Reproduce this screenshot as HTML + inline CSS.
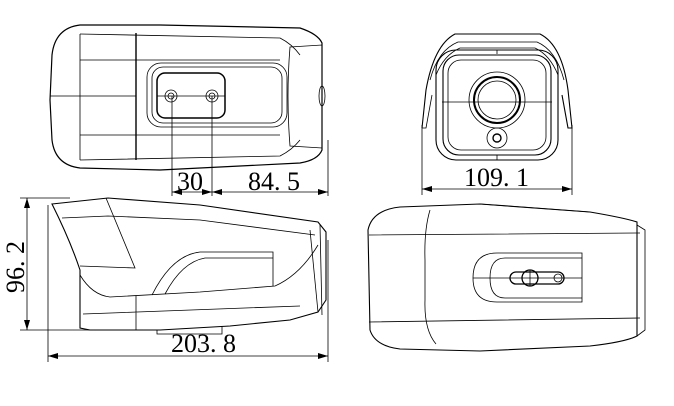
<!DOCTYPE html>
<html><head><meta charset="utf-8"><style>
html,body{margin:0;padding:0;background:#fff;}
svg{display:block;}
text{font-family:"Liberation Serif",serif;fill:#000;}
</style></head><body>
<svg width="674" height="406" viewBox="0 0 674 406" xmlns="http://www.w3.org/2000/svg">
<defs>
<marker id="a" viewBox="0 0 10 6" refX="10" refY="3" markerWidth="10" markerHeight="6" orient="auto-start-reverse" markerUnits="userSpaceOnUse">
<path d="M0,0 L10,3 L0,6 Z" fill="#000"/></marker>
</defs>
<g fill="none" stroke="#000" stroke-width="0.8">
<!-- TOP VIEW -->
<path d="M80,25 L160,25 L300,28 Q318,34 322,43 L322,150 Q318,160 300,163 L160,170 L80,168 Q55,165 52,140 L50,100 L52,55 Q55,28 80,25 Z" stroke-width="1.2"/>
<path d="M80,34 L80,160"/>
<line x1="136" y1="33" x2="136" y2="160" stroke-width="1.4"/>
<path d="M80,34 L280,38 Q292,44 300,55"/>
<path d="M80,160 L280,156 Q292,150 300,140"/>
<path d="M80,60 L280,60 M80,135 L280,135 M50,96 L136,96"/>
<path d="M290,47 L322,45 L322,148 L290,146 Q286,96 290,47 Z"/>
<ellipse cx="322" cy="96" rx="3" ry="10"/>
<rect x="147" y="63" width="140" height="64" rx="14"/>
<rect x="152" y="67" width="130" height="56" rx="11"/>
<rect x="157" y="73" width="68" height="45" rx="8" stroke-width="1.5"/>
<line x1="157" y1="96" x2="225" y2="96"/>
<circle cx="171" cy="96" r="6"/><circle cx="171" cy="96" r="3"/>
<circle cx="212" cy="96" r="6"/><circle cx="212" cy="96" r="3"/>
<line x1="172" y1="96" x2="172" y2="196"/>
<line x1="212" y1="96" x2="212" y2="196"/>
<line x1="328" y1="140" x2="328" y2="196"/>
<line x1="172" y1="192" x2="212" y2="192" marker-start="url(#a)" marker-end="url(#a)"/>
<line x1="212" y1="192" x2="328" y2="192" marker-start="url(#a)" marker-end="url(#a)"/>

<!-- SIDE VIEW -->
<line x1="20" y1="198" x2="70" y2="198"/>
<line x1="20" y1="330" x2="140" y2="330"/>
<line x1="27" y1="198" x2="27" y2="330" marker-start="url(#a)" marker-end="url(#a)"/>
<line x1="48" y1="205" x2="48" y2="362"/>
<line x1="328" y1="240" x2="328" y2="362"/>
<line x1="48" y1="356" x2="328" y2="356" marker-start="url(#a)" marker-end="url(#a)"/>
<path d="M52,204 L108,198 L200,205 L318,222 L326,232 L326,300 L318,312 L290,320 L230,326 L160,330 L90,330 L80,328 L80,270 Q70,240 52,204 Z" stroke-width="1.1"/>
<path d="M62,218 L108,216 L200,220 L315,235"/>
<path d="M106,198 L135,268 L80,266"/>
<path d="M80,275 Q92,295 110,297 L200,292 L275,286 Q300,275 318,245"/>
<path d="M152,295 Q172,255 200,252 L273,252 L273,286"/>
<path d="M165,294 Q182,262 205,258 L273,258"/>
<path d="M83,314 L300,306 M136,296 L136,330 M310,230 L318,312 M320,225 L322,315"/>
<path d="M157,330 L157,334 L222,334 L222,326"/>

<!-- FRONT VIEW -->
<path d="M422,128 L426,90 Q434,45 455,34 L540,34 Q562,45 568,90 L572,128 L568,128 L562,95" stroke-width="1.1"/>
<path d="M422,128 L426,128 L432,95"/>
<path d="M430,80 Q438,50 458,42 L537,42 Q556,50 564,80"/>
<path d="M436,75 Q444,55 460,48 L535,48 Q550,55 558,75"/>
<rect x="436" y="50" width="122" height="110" rx="20" stroke-width="1.1"/>
<rect x="443" y="55" width="108" height="100" rx="16" stroke-width="1.1"/>
<rect x="448" y="60" width="98" height="90" rx="13"/>
<line x1="442" y1="102" x2="552" y2="102"/>
<line x1="497" y1="50" x2="497" y2="54"/>
<line x1="497" y1="155" x2="497" y2="160"/>
<circle cx="497" cy="100" r="28"/>
<circle cx="497" cy="100" r="23" stroke-width="2"/>
<circle cx="497" cy="100" r="19"/>
<circle cx="497" cy="138" r="10"/>
<circle cx="497" cy="138" r="4" stroke-width="1.4"/>
<line x1="422" y1="125" x2="422" y2="195"/>
<line x1="572" y1="125" x2="572" y2="195"/>
<line x1="422" y1="189" x2="572" y2="189" marker-start="url(#a)" marker-end="url(#a)"/>

<!-- BOTTOM VIEW -->
<path d="M400,207 L480,204 L590,212 Q625,218 637,222 L637,336 Q625,342 590,346 L480,351 L400,349 Q375,346 370,330 L368,230 Q372,210 400,207 Z" stroke-width="1.1"/>
<path d="M369,235 L640,233 M369,322 L640,318"/>
<path d="M430,210 Q424,230 425,260 L425,300 Q424,330 436,344"/>
<path d="M480,204 L590,212"/>
<path d="M637,225 L645,230 L645,330 L637,336"/>
<path d="M582,253 L497,253 Q473,253 473,278 Q473,302 497,302 L582,302 Z"/>
<path d="M582,258 L505,258 Q490,258 490,278 Q490,298 505,298 L582,298"/>
<line x1="473" y1="278" x2="582" y2="278"/>
<rect x="510" y="272" width="54" height="12" rx="6" stroke-width="1.3"/>
<circle cx="530" cy="278" r="8" stroke-width="1.3"/>
<line x1="530" y1="270" x2="530" y2="286"/>
<circle cx="558" cy="278" r="4"/>
</g>
<text x="177" y="190" font-size="26">30</text>
<text x="248" y="190" font-size="26">84. 5</text>
<text x="464" y="186" font-size="26">109. 1</text>
<text x="171" y="352" font-size="26">203. 8</text>
<text transform="translate(24,267) rotate(-90)" font-size="26" text-anchor="middle">96. 2</text>
</svg>
</body></html>
